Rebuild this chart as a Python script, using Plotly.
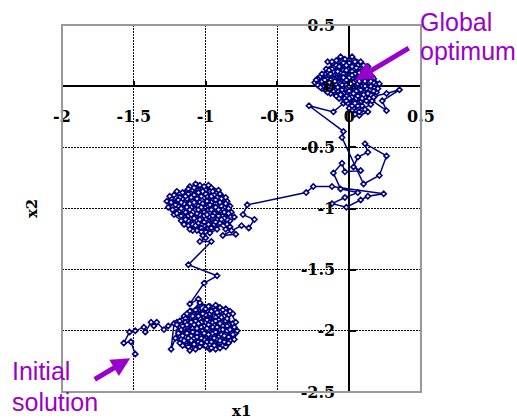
import plotly.graph_objects as go

# ---------------- data ----------------
tail_x = [-1.49, -1.52, -1.57, -1.53, -1.49, -1.43, -1.42, -1.38, -1.36, -1.34, -1.29, -1.26, -1.22, -1.24]
tail_y = [-2.19, -2.09, -2.10, -2.01, -2.00, -1.97, -2.01, -1.93, -1.96, -1.93, -1.99, -1.96, -1.94, -2.15]

low_extra_x = [-1.19, -1.14, -1.09, -1.03, -0.97, -0.91, -0.85, -0.81, -0.87, -0.93,
               -0.99, -1.05, -1.10, -1.16, -1.12, -1.06, -1.00, -0.94, -0.88, -0.83,
               -0.79, -0.84, -0.90, -0.96, -1.02, -1.08, -1.14, -1.18, -1.15, -1.09,
               -1.03, -0.97, -0.91, -0.86, -0.92, -0.98, -1.04, -1.10, -1.15, -1.20,
               -1.17, -1.11, -1.05, -0.99, -0.93, -0.87, -0.82, -0.87, -0.94, -1.01,
               -1.07, -1.13, -1.08, -1.01, -0.95, -0.89, -0.94, -1.00, -1.06, -1.12]
low_extra_y = [-2.00, -2.05, -2.10, -2.04, -2.00, -2.05, -2.00, -1.94, -1.88, -1.83,
               -1.86, -1.83, -1.89, -1.91, -1.99, -2.02, -2.06, -2.10, -2.12, -2.08,
               -2.02, -1.95, -1.99, -2.05, -2.10, -2.13, -2.09, -2.04, -1.98, -1.95,
               -1.99, -1.93, -1.88, -1.82, -1.80, -1.84, -1.87, -1.84, -1.88, -1.93,
               -2.07, -2.03, -2.07, -2.13, -2.15, -2.07, -1.98, -1.93, -1.95, -1.96,
               -1.90, -1.92, -1.99, -2.03, -1.98, -1.93, -1.88, -1.91, -1.95, -1.97]

low_x = [-1.20, -1.14, -1.17, -1.10, -1.05, -1.12, -1.06, -0.99, -1.03, -0.96,
         -0.91, -0.97, -0.90, -0.84, -0.88, -0.82, -0.87, -0.94, -1.01, -1.08,
         -1.15, -1.19, -1.13, -1.07, -1.00, -0.93, -0.86, -0.80, -0.84, -0.90,
         -0.97, -1.04, -1.11, -1.16, -1.21, -1.18, -1.11, -1.04, -0.97, -0.92,
         -0.95, -1.02, -1.09, -1.14, -1.09, -1.02, -0.95, -0.89, -0.83, -0.79,
         -0.83, -0.89, -0.94, -0.99, -1.06, -1.13, -1.18, -1.12, -1.05, -0.98,
         -0.92, -0.86, -0.80, -0.78, -0.85, -0.91, -0.98, -1.04, -1.10, -1.16,
         -1.12, -1.07, -1.00, -0.94, -0.88, -0.93, -1.00, -1.07, -1.13, -1.08,
         -1.01, -0.96, -0.90, -0.84, -0.81, -0.86, -0.93, -1.00, -1.05, -0.99,
         -0.92, -0.87, -0.95, -1.03, -1.10, -1.16, -1.13, -1.06, -0.98, -0.90,
         -0.85, -0.81, -0.88, -0.96, -1.03, -1.09, -1.03, -0.96, -0.90, -0.93,
         -0.99, -1.05, -1.02, -0.98, -1.04]
low_y = [-1.95, -1.90, -1.99, -2.04, -1.96, -1.87, -1.82, -1.88, -1.97, -2.03,
         -1.95, -1.86, -1.81, -1.87, -1.96, -2.02, -2.09, -2.12, -2.07, -2.11,
         -2.08, -2.02, -1.97, -1.92, -1.93, -1.89, -1.92, -1.97, -2.05, -2.10,
         -2.15, -2.13, -2.16, -2.12, -2.06, -1.92, -1.84, -1.79, -1.80, -1.85,
         -1.93, -2.00, -1.98, -1.93, -1.88, -1.85, -1.97, -2.03, -1.99, -1.93,
         -1.84, -1.89, -2.00, -2.09, -2.05, -2.02, -2.10, -2.13, -2.09, -2.03,
         -2.07, -2.13, -2.07, -2.00, -1.96, -1.91, -1.95, -1.90, -1.93, -1.96,
         -2.06, -2.15, -2.12, -2.06, -1.99, -1.92, -1.87, -1.83, -1.86, -1.95,
         -2.02, -2.09, -2.14, -2.10, -2.03, -1.85, -1.79, -1.82, -1.88, -1.91,
         -1.97, -2.04, -2.02, -2.06, -2.08, -2.04, -1.95, -1.98, -1.99, -1.94,
         -1.90, -1.86, -1.83, -1.84, -1.93, -2.01, -2.10, -2.14, -2.08, -2.01,
         -1.98, -1.94, -1.86, -1.80, -1.77]

climb_x = [-1.05, -1.11, -1.01, -0.92, -1.12, -0.96, -1.04, -1.00]
climb_y = [-1.74, -1.78, -1.61, -1.55, -1.46, -1.27, -1.27, -1.24]

mid_extra_x = [-1.06, -1.12, -1.17, -1.22, -1.26, -1.20, -1.14, -1.08, -1.02, -0.96,
               -0.90, -0.85, -0.84, -0.88, -0.94, -1.00, -1.06, -1.12, -1.18, -1.13,
               -1.07, -1.01, -0.95, -0.89, -0.95, -1.01, -1.07, -1.13, -1.19, -1.24,
               -1.18, -1.11, -1.05, -0.99, -0.93, -0.87, -0.92, -0.98, -1.04, -1.10,
               -1.15, -1.09, -1.03, -0.97, -0.91, -0.86, -0.83, -0.88, -0.94, -1.00,
               -1.06, -1.10, -1.16, -1.21, -1.16, -1.10, -1.04, -0.98, -0.92, -0.98]
mid_extra_y = [-1.18, -1.14, -1.10, -1.05, -0.99, -0.94, -0.94, -0.89, -0.84, -0.83,
               -0.88, -0.94, -1.02, -1.10, -1.15, -1.19, -1.10, -1.06, -1.02, -0.97,
               -0.93, -0.91, -0.93, -1.04, -1.10, -1.14, -1.07, -1.01, -0.96, -0.92,
               -0.88, -0.82, -0.85, -0.90, -0.96, -0.99, -1.05, -1.01, -1.05, -1.08,
               -1.13, -1.18, -1.13, -1.07, -1.13, -1.17, -1.10, -1.01, -0.89, -0.85,
               -0.81, -0.87, -0.92, -1.00, -1.05, -0.99, -0.95, -0.98, -1.09, -1.17]

mid_x = [-1.02, -0.98, -1.05, -1.11, -1.08, -1.14, -1.19, -1.13, -1.07, -1.01,
         -0.95, -0.90, -0.96, -1.03, -1.09, -1.04, -0.97, -0.92, -0.86, -0.88,
         -0.94, -1.00, -1.06, -1.12, -1.17, -1.23, -1.27, -1.22, -1.16, -1.10,
         -1.05, -0.99, -0.93, -0.87, -0.83, -0.89, -0.95, -1.01, -1.07, -1.12,
         -1.18, -1.21, -1.16, -1.10, -1.04, -0.98, -0.92, -0.97, -1.03, -1.09,
         -1.14, -1.20, -1.15, -1.09, -1.02, -0.96, -0.91, -0.85, -0.82, -0.86,
         -0.91, -0.98, -1.05, -1.11, -1.17, -1.24, -1.19, -1.13, -1.07, -1.01,
         -0.94, -0.89, -0.93, -1.00, -1.06, -1.12, -1.08, -1.02, -0.96, -0.90,
         -0.84, -0.87, -0.93, -0.99, -1.05, -1.11, -1.17, -1.25, -1.20, -1.14,
         -1.08, -1.03, -0.97, -0.91, -0.95, -1.01, -1.07, -1.03, -0.96, -0.90,
         -0.85, -0.80, -0.84, -0.89, -0.83, -0.79, -0.88, -0.82, -0.75, -0.70,
         -0.66, -0.74, -0.71]
mid_y = [-1.22, -1.16, -1.12, -1.17, -1.08, -1.03, -0.98, -0.92, -0.97, -1.03,
         -1.08, -1.02, -0.95, -0.90, -0.85, -0.81, -0.86, -0.91, -0.96, -1.06,
         -1.13, -1.09, -1.04, -1.10, -1.06, -1.01, -0.94, -0.89, -0.87, -0.91,
         -0.98, -0.94, -0.99, -1.03, -0.98, -0.92, -0.86, -0.82, -0.80, -0.84,
         -0.91, -0.97, -1.01, -1.05, -1.09, -1.13, -1.17, -1.20, -1.16, -1.13,
         -1.09, -1.04, -0.96, -0.94, -0.96, -1.01, -1.06, -1.09, -1.03, -0.91,
         -0.85, -0.81, -0.87, -0.96, -1.00, -0.95, -0.93, -0.99, -1.01, -1.06,
         -1.04, -0.98, -0.93, -0.88, -0.92, -0.88, -0.83, -0.86, -0.90, -0.95,
         -1.00, -1.08, -1.11, -1.05, -1.01, -1.01, -0.95, -0.90, -0.86, -0.90,
         -0.95, -0.99, -0.97, -1.01, -1.06, -1.11, -1.14, -1.19, -1.16, -1.12,
         -1.13, -1.07, -1.04, -1.09, -1.15, -1.21, -1.22, -1.18, -1.14, -1.16,
         -1.09, -1.05, -0.97]

route_x = [-0.30, -0.25, -0.12, 0.24, 0.13, 0.08, -0.02, -0.12, -0.03, 0.06,
           -0.06, -0.11, -0.05, -0.03, 0.08, 0.03, 0.06, 0.13, 0.11, 0.26,
           0.21, 0.10, -0.05, -0.04, -0.28, -0.11]
route_y = [-0.87, -0.82, -0.82, -0.88, -0.90, -0.93, -0.99, -0.96, -0.91, -0.87,
           -0.84, -0.71, -0.63, -0.70, -0.69, -0.66, -0.58, -0.54, -0.47, -0.57,
           -0.73, -0.80, -0.42, -0.37, -0.16, -0.21]

top_x = [-0.04, 0.02, -0.05, -0.12, -0.18, -0.22, -0.16, -0.09, -0.03, 0.03,
         0.08, 0.12, 0.07, 0.01, -0.05, -0.11, -0.07, -0.01, 0.05, 0.10,
         0.15, 0.19, 0.14, 0.09, 0.03, -0.03, -0.09, -0.15, -0.20, -0.24,
         -0.19, -0.13, -0.07, -0.01, 0.05, 0.11, 0.16, 0.12, 0.06, 0.00,
         -0.06, -0.11, -0.16, -0.13, -0.07, -0.02, 0.04, 0.10, 0.15, 0.09,
         0.04, 0.00, 0.06, 0.11, 0.17, 0.21, 0.17, 0.11, 0.06, 0.00,
         -0.04, -0.10, -0.15, -0.09, -0.03, 0.03, 0.08, 0.13, 0.08, 0.02,
         -0.03, -0.08, -0.14, -0.19, -0.14, -0.08, -0.02, 0.04, 0.09, 0.13,
         0.07, 0.02, -0.01, 0.05, 0.10, 0.14, 0.09, 0.04, -0.02, -0.08,
         -0.13, -0.18, -0.22, -0.17, -0.12, -0.06, 0.00, 0.06, 0.12, 0.18,
         0.26, 0.35, 0.23, 0.26, 0.16, 0.10, 0.04, -0.02, -0.08, -0.14,
         -0.10, -0.04, 0.02, 0.07, 0.03, -0.01, -0.06, -0.02, 0.01, 0.00]
top_y = [-0.14, -0.09, -0.03, 0.02, 0.06, 0.01, -0.04, -0.08, -0.12, -0.18,
         -0.13, -0.07, -0.02, 0.03, 0.08, 0.12, 0.17, 0.14, 0.10, 0.05,
         0.00, -0.05, -0.10, -0.06, -0.01, 0.04, 0.07, 0.11, 0.08, 0.03,
         -0.02, -0.06, -0.10, -0.05, 0.00, 0.04, 0.08, 0.13, 0.17, 0.21,
         0.23, 0.18, 0.14, 0.08, 0.03, -0.02, -0.07, -0.11, -0.15, -0.19,
         -0.23, -0.18, -0.14, -0.09, -0.04, 0.02, 0.06, 0.09, 0.05, 0.09,
         0.13, 0.16, 0.20, 0.21, 0.18, 0.14, 0.12, 0.16, 0.20, 0.24,
         0.22, 0.14, 0.09, 0.04, 0.00, -0.04, -0.08, -0.12, -0.16, -0.21,
         -0.24, -0.20, -0.14, -0.10, -0.05, 0.03, 0.00, 0.04, 0.06, 0.10,
         0.05, 0.00, 0.06, 0.10, 0.14, 0.11, 0.07, 0.02, -0.02, -0.08,
         -0.06, -0.03, -0.12, -0.20, -0.12, -0.07, -0.03, 0.01, -0.01, 0.03,
         0.06, 0.10, 0.12, 0.08, 0.03, -0.01, 0.02, 0.05, 0.01, 0.00]

top_extra_x = [0.05, 0.11, 0.17, 0.13, 0.07, 0.02, -0.04, -0.09, -0.14, -0.19,
               -0.23, -0.20, -0.15, -0.10, -0.05, 0.00, 0.06, 0.12, 0.17, 0.20,
               0.15, 0.09, 0.04, -0.02, -0.07, -0.12, -0.06, 0.00, 0.05, 0.10,
               0.14, 0.10, 0.04, -0.02, -0.08, -0.13, -0.17, -0.12, -0.06, 0.00,
               0.06, 0.11, 0.07, 0.02, -0.03, 0.03, 0.08, 0.13, 0.09, 0.04,
               -0.02, -0.06, -0.11, -0.16, -0.10, -0.04, 0.02, 0.07, 0.03, 0.01]
top_extra_y = [-0.04, 0.00, 0.03, 0.07, 0.11, 0.16, 0.19, 0.17, 0.13, 0.10,
               0.05, -0.01, -0.05, -0.03, 0.01, -0.04, -0.08, -0.12, -0.09, -0.02,
               0.04, 0.07, 0.10, 0.13, 0.16, 0.20, 0.24, 0.19, 0.15, 0.11,
               0.12, 0.17, 0.20, 0.17, 0.12, 0.10, 0.05, -0.01, -0.06, -0.10,
               -0.16, -0.19, -0.21, -0.16, -0.10, -0.06, -0.03, -0.06, -0.10, -0.14,
               -0.12, -0.07, -0.04, 0.01, 0.04, 0.07, 0.09, 0.04, 0.00, 0.02]

x_ticks = [-2, -1.5, -1, -0.5, 0, 0.5]
x_ticktext = ["-2", "-1.5", "-1", "-0.5", "0", "0.5"]
y_ticks = [0.5, 0, -0.5, -1, -1.5, -2, -2.5]
y_ticktext = ["0.5", "0", "-0.5", "-1", "-1.5", "-2", "-2.5"]

x_range = [-2, 0.5]
y_range = [-2.5, 0.5]

optimum_point = (0.042, 0.049)
start_point = (-1.525, -2.224)

# ---------------- figure ----------------
xs = tail_x + low_extra_x + low_x + climb_x + mid_extra_x + mid_x + route_x + top_x + top_extra_x
ys = tail_y + low_extra_y + low_y + climb_y + mid_extra_y + mid_y + route_y + top_y + top_extra_y

NAVY = "#000080"
PURPLE = "#9A00CC"
tickfont = dict(family="DejaVu Serif", size=16, color="black", weight="bold")

fig = go.Figure()
fig.add_trace(go.Scatter(
    x=xs, y=ys, mode="lines+markers",
    line=dict(color=NAVY, width=1.5),
    marker=dict(symbol="diamond", size=4, color="white",
                line=dict(color=NAVY, width=1.6)),
    showlegend=False, hoverinfo="skip"))

x_pos = (0 - y_range[0]) / (y_range[1] - y_range[0])
y_pos = (0 - x_range[0]) / (x_range[1] - x_range[0])

fig.update_layout(
    width=517, height=419,
    margin=dict(l=62, r=96, t=25, b=27),
    paper_bgcolor="white", plot_bgcolor="white",
    xaxis=dict(range=x_range, tickvals=x_ticks,
               ticktext=["<b>%s</b>" % t for t in x_ticktext],
               anchor="free", position=x_pos,
               ticks="inside", ticklen=5, tickwidth=1.5, tickcolor="black",
               showgrid=True, gridcolor="black", gridwidth=1, griddash="2px,1px",
               zeroline=True, zerolinecolor="black", zerolinewidth=1.5,
               showline=False, tickfont=tickfont, ticklabelstandoff=19),
    yaxis=dict(range=y_range, tickvals=y_ticks,
               ticktext=["<b>%s</b>" % t for t in y_ticktext],
               anchor="free", position=y_pos,
               ticks="inside", ticklen=6, tickwidth=1.5, tickcolor="black",
               showgrid=True, gridcolor="black", gridwidth=1, griddash="2px,1px",
               zeroline=True, zerolinecolor="black", zerolinewidth=1.5,
               showline=False, tickfont=tickfont, ticklabelstandoff=14),
)

fig.add_shape(type="rect", xref="paper", yref="paper", x0=0, x1=1, y0=0, y1=1,
              line=dict(color="#999999", width=2), layer="above")

titlefont = dict(family="DejaVu Serif", size=15, color="black", weight="bold")
fig.add_annotation(text="<b>x1</b>", xref="paper", yref="paper", x=0.5, y=-0.052,
                   showarrow=False, font=titlefont, xanchor="center", yanchor="middle")
fig.add_annotation(text="<b>x2</b>", xref="paper", yref="paper", x=-0.0836, y=0.501,
                   showarrow=False, font=titlefont, textangle=-90,
                   xanchor="center", yanchor="middle")

labfont = dict(family="Liberation Sans", size=25, color=PURPLE)
for txt, px, py in [("Global", 0.9916, 1.0095), ("optimum", 0.9916, 0.928),
                    ("Initial", -0.1448, 0.0572), ("solution", -0.1448, -0.0272)]:
    fig.add_annotation(text=txt, xref="paper", yref="paper", x=px, y=py,
                       showarrow=False, font=labfont, xanchor="left", yanchor="middle")

fig.add_annotation(x=optimum_point[0], y=optimum_point[1], text="", showarrow=True,
                   ax=55, ay=-33, arrowcolor=PURPLE, arrowwidth=5, arrowhead=2,
                   arrowsize=0.75, standoff=0)
fig.add_annotation(x=start_point[0], y=start_point[1], text="", showarrow=True,
                   ax=-37, ay=22, arrowcolor=PURPLE, arrowwidth=5, arrowhead=2,
                   arrowsize=0.75, standoff=0)

fig.write_html("out.html", config={"displayModeBar": False},
               post_script="document.body.style.margin='0';")
